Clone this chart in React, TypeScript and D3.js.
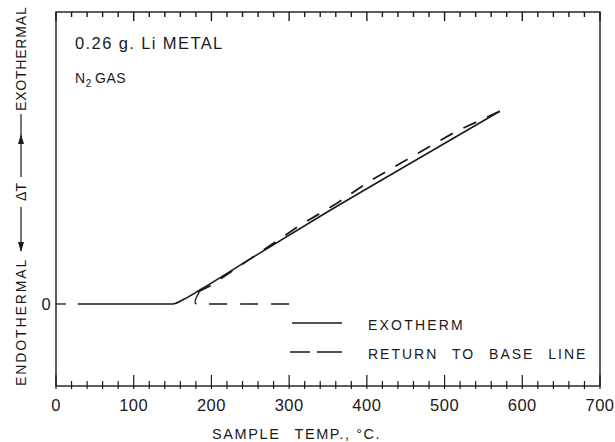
import * as d3 from 'd3';
import React from 'react';

// exotherm (solid) trace, sample temp in °C vs ΔT (arbitrary units)
const exoTemp = [28, 150, 165, 185, 250, 340, 455, 571];
const exoDT = [0, 0, 0.06, 0.17, 0.55, 1.07, 1.71, 2.35];

// return trace (dashed), drawn from the top end back down
const returnTemp = [571, 516, 455, 404, 362, 314, 250, 198, 185];
const returnDT = [2.35, 2.11, 1.78, 1.5, 1.23, 0.96, 0.55, 0.22, 0.16];
const curlTemp = [185, 180, 178, 181];
const curlDT = [0.16, 0.07, 0.01, 0];
const baseTemp = [197, 305];
const baseDT = [0, 0];

const xTicks = [0, 100, 200, 300, 400, 500, 600, 700];
const xMinor = d3.range(0, 701, 20);

const W = 615;
const H = 442;
const plot = { left: 56, right: 600, top: 12, bottom: 386 };
const font = "'Liberation Sans', Arial, sans-serif";
const ink = '#1a1a1a';

const x = d3.scaleLinear().domain([0, 700]).range([plot.left, plot.right]);
const y = d3.scaleLinear().domain([-1, 3.56]).range([plot.bottom, plot.top]);

const pairs = (t: number[], v: number[]) => t.map((d, i) => [d, v[i]] as [number, number]);
const mkLine = (curve: d3.CurveFactory) => d3.line<[number, number]>()
    .x(d => x(d[0]))
    .y(d => y(d[1]))
    .curve(curve);

const App = () => {
    const exoPath = mkLine(d3.curveMonotoneX)(pairs(exoTemp, exoDT)) || '';
    const retPath = mkLine(d3.curveLinear)(pairs(returnTemp, returnDT)) || '';
    const curlPath = mkLine(d3.curveBasis)(pairs(curlTemp, curlDT)) || '';
    const basePath = mkLine(d3.curveLinear)(pairs(baseTemp, baseDT)) || '';

    return (
        <svg width={W} height={H} style={{ position: 'absolute', left: 0, top: 0, background: '#fff' }}
            fontFamily={font} fill={ink}>
            {/* frame */}
            <rect x={plot.left} y={plot.top} width={plot.right - plot.left} height={plot.bottom - plot.top}
                fill="none" stroke={ink} strokeWidth={1.4} />

            {/* top ticks */}
            <g stroke={ink} strokeWidth={1.4}>
                {xMinor.map(t => (
                    <line key={'tt' + t} x1={x(t)} x2={x(t)} y1={plot.top}
                        y2={plot.top + (t % 100 === 0 ? 9 : 5)} />
                ))}
            </g>
            {/* bottom ticks, crossing the axis */}
            <g stroke={ink} strokeWidth={1.2}>
                {xMinor.map(t => (
                    <line key={'bt' + t} x1={x(t)} x2={x(t)} y1={plot.bottom - (t % 100 === 0 ? 11 : 5)}
                        y2={plot.bottom + 3} />
                ))}
            </g>
            {xTicks.map(t => (
                <text key={'xl' + t} x={x(t)} y={plot.bottom + 25} textAnchor="middle" fontSize={16.5}
                    letterSpacing={0.5}>{t}</text>
            ))}

            {/* y zero tick */}
            <line x1={plot.left} x2={plot.left + 10} y1={y(0)} y2={y(0)} stroke={ink} strokeWidth={1.3} />
            <text x={46} y={y(0) + 6} textAnchor="middle" fontSize={16.5}>0</text>

            {/* data */}
            <path d={exoPath} fill="none" stroke={ink} strokeWidth={1.6} />
            <path d={retPath} fill="none" stroke={ink} strokeWidth={1.8} strokeDasharray="14,12" />
            <path d={curlPath} fill="none" stroke={ink} strokeWidth={1.3} />
            <path d={basePath} fill="none" stroke={ink} strokeWidth={1.6} strokeDasharray="18,13" />

            {/* annotations */}
            <text x={75} y={49} fontSize={16.5} letterSpacing={1.4}>0.26 g. Li METAL</text>
            <text x={75} y={83} fontSize={14} letterSpacing={0.6}>
                N<tspan fontSize={10} dy={4}>2</tspan><tspan dy={-4} dx={3}>GAS</tspan>
            </text>

            {/* legend */}
            <line x1={292} x2={342} y1={323} y2={323} stroke={ink} strokeWidth={1.5} />
            <text x={368} y={330} fontSize={14} letterSpacing={2.2}>EXOTHERM</text>
            <line x1={290} x2={342} y1={352} y2={352} stroke={ink} strokeWidth={1.5} strokeDasharray="20,7,25" />
            <text x={368} y={359} fontSize={14} letterSpacing={2} wordSpacing={8}>RETURN TO BASE LINE</text>

            {/* y title */}
            <text transform="translate(26,386) rotate(-90)" fontSize={14} letterSpacing={1.9}>ENDOTHERMAL</text>
            <text transform="translate(26,111) rotate(-90)" fontSize={14} letterSpacing={0.8}>EXOTHERMAL</text>
            <text transform="translate(26,192) rotate(-90)" textAnchor="middle" fontSize={14}>ΔT</text>
            <line x1={21} x2={21} y1={114} y2={177} stroke={ink} strokeWidth={1.2} />
            <path d="M21,134 L18,144 L24,144 Z" fill={ink} />
            <line x1={21} x2={21} y1={207} y2={251} stroke={ink} strokeWidth={1.2} />
            <path d="M21,252 L18,242 L24,242 Z" fill={ink} />

            {/* x title */}
            <text x={212} y={439} fontSize={14.5} letterSpacing={1.6}>
                SAMPLE<tspan dx={14}>TEMP., °C.</tspan>
            </text>
        </svg>
    );
};

export default App;
